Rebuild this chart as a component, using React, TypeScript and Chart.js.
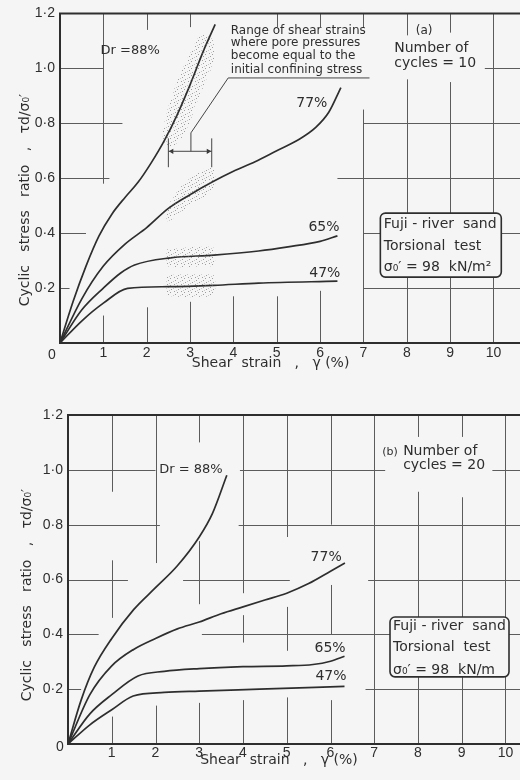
import React, { useEffect, useRef } from "react";
import { Chart, registerables } from "chart.js";

Chart.register(...registerables);

// ---------- data: panel (a), number of cycles = 10 ----------
const strainA88 = [0, 0.3, 0.6, 0.9, 1.2, 1.5, 1.8, 2.1, 2.4, 2.7, 3.0, 3.3, 3.58];
const ratioA88 = [0, 0.15, 0.28, 0.39, 0.47, 0.53, 0.585, 0.655, 0.735, 0.83, 0.94, 1.06, 1.16];
const strainA77 = [0, 0.5, 1.0, 1.5, 2.0, 2.5, 3.0, 3.5, 4.0, 4.5, 5.0, 5.5, 5.9, 6.2, 6.48];
const ratioA77 = [0, 0.16, 0.28, 0.36, 0.42, 0.49, 0.54, 0.585, 0.625, 0.66, 0.7, 0.74, 0.785, 0.84, 0.93];
const strainA65 = [0, 0.5, 1.0, 1.4, 1.72, 2.55, 3.55, 4.58, 5.26, 6.0, 6.4];
const ratioA65 = [0, 0.12, 0.2, 0.255, 0.284, 0.31, 0.32, 0.335, 0.35, 0.37, 0.39];
const strainA47 = [0, 0.5, 1.0, 1.56, 2.5, 3.55, 4.58, 6.4];
const ratioA47 = [0, 0.08, 0.145, 0.199, 0.205, 0.21, 0.218, 0.225];

// stippled ranges where pore pressure equals confining stress (panel a)
const stipple88X = [2.35, 2.5, 2.75, 3.05, 3.25, 3.5, 3.55, 3.35, 3.1, 2.9, 2.65, 2.45];
const stipple88Y = [0.76, 0.86, 0.97, 1.07, 1.12, 1.11, 1.03, 0.95, 0.85, 0.77, 0.72, 0.71];
const stipple77X = [2.42, 2.6, 3.0, 3.5, 3.57, 3.3, 2.9, 2.5];
const stipple77Y = [0.46, 0.53, 0.6, 0.64, 0.57, 0.53, 0.49, 0.44];
const stipple65X = [2.45, 2.7, 3.3, 3.55, 3.55, 3.3, 2.7, 2.45];
const stipple65Y = [0.34, 0.345, 0.35, 0.345, 0.285, 0.28, 0.275, 0.28];
const stipple47X = [2.45, 2.7, 3.3, 3.55, 3.55, 3.3, 2.7, 2.45];
const stipple47Y = [0.245, 0.25, 0.25, 0.245, 0.175, 0.168, 0.168, 0.175];

// range bar and leader (panel a)
const rangeBarX = [2.5, 3.5];
const rangeBarY = [0.698, 0.698];
const rangeEndX = [2.5, 3.5];
const rangeEndLow = 0.64;
const rangeEndHigh = 0.745;
const leaderX = [3.02, 3.02, 3.88, 7.14];
const leaderY = [0.698, 0.765, 0.965, 0.965];

// ---------- data: panel (b), number of cycles = 20 ----------
const strainB88 = [0, 0.3, 0.6, 1.0, 1.5, 2.0, 2.5, 3.0, 3.3, 3.63];
const ratioB88 = [0, 0.16, 0.28, 0.385, 0.49, 0.57, 0.65, 0.755, 0.84, 0.98];
const strainB77 = [0, 0.5, 1.0, 1.5, 2.0, 2.5, 3.0, 3.5, 4.0, 4.5, 5.0, 5.5, 6.0, 6.33];
const ratioB77 = [0, 0.18, 0.285, 0.345, 0.385, 0.42, 0.445, 0.475, 0.5, 0.525, 0.55, 0.585, 0.63, 0.66];
const strainB65 = [0, 0.5, 1.0, 1.6, 2.2, 3.0, 4.0, 5.0, 5.6, 6.0, 6.32];
const ratioB65 = [0, 0.11, 0.18, 0.248, 0.265, 0.275, 0.282, 0.285, 0.29, 0.302, 0.32];
const strainB47 = [0, 0.5, 1.0, 1.49, 2.2, 3.0, 4.38, 6.32];
const ratioB47 = [0, 0.07, 0.125, 0.175, 0.188, 0.193, 0.2, 0.21];

// ---------- tick labels ----------
const xTickLabels = ["", "1", "2", "3", "4", "5", "6", "7", "8", "9", "10"];
const yTickLabels = ["", "0·2", "0·4", "0·6", "0·8", "1·0", "1·2"];

// ---------- styling ----------
const FONT = '"DejaVu Sans", sans-serif';
const TICK_FONT = '"Liberation Sans", sans-serif';
const INK = "#2e2e2e";
const GRID = "#5c5c5c";
const PAPER = "#f5f5f5";

type Seg = [number, number, number];
type Label = { t: string; x: number; y: number; s: number; a?: CanvasTextAlign };

const gridVA: Seg[] = [
  [1, 0.58, 1.2], [1, 0, 0.1], [2, 1.14, 1.2], [2, 0, 0.13], [3, 1.15, 1.2], [3, 0, 0.15],
  [4, 0, 0.17], [5, 1.15, 1.2], [5, 0, 0.17], [6, 1.15, 1.2], [6, 0, 0.19],
  [7, 1.15, 1.2], [7, 0, 0.85], [8, 1.12, 1.2], [8, 0, 0.96], [9, 1.13, 1.2], [9, 0, 0.95],
  [10, 0, 1.2],
];
const gridHA: Seg[] = [
  [1.0, 0, 1.0], [1.0, 9.8, 11], [0.8, 0, 1.44], [0.8, 7.0, 11], [0.6, 0, 1.14], [0.6, 6.4, 11],
  [0.4, 0, 0.6], [0.4, 7.0, 11], [0.2, 0, 0.22], [0.2, 7.0, 11],
];
const gridVB: Seg[] = [
  [1, 0.92, 1.2], [1, 0.46, 0.67], [1, 0, 0.1], [2, 0.66, 1.2], [2, 0, 0.14],
  [3, 1.1, 1.2], [3, 0.51, 0.74], [3, 0, 0.15], [4, 0.55, 1.2], [4, 0.37, 0.47], [4, 0, 0.16],
  [5, 0.755, 1.2], [5, 0.34, 0.5], [5, 0, 0.17], [6, 0.8, 1.2], [6, 0.4, 0.58], [6, 0, 0.16],
  [7, 0, 1.2], [8, 1.12, 1.2], [8, 0, 0.92], [9, 1.12, 1.2], [9, 0, 0.9], [10, 0, 1.2],
];
const gridHB: Seg[] = [
  [1.0, 0, 2.0], [1.0, 3.93, 7.25], [1.0, 9.7, 11], [0.8, 0, 2.1], [0.8, 3.9, 11],
  [0.6, 0, 1.37], [0.6, 2.63, 5.07], [0.6, 6.86, 11], [0.4, 0, 0.7], [0.4, 3.06, 11],
  [0.2, 0, 0.3], [0.2, 6.8, 11],
];

const labelsA: Label[] = [
  { t: "Dr =88%", x: 1.62, y: 1.065, s: 13 },
  { t: "Range of shear strains", x: 3.94, y: 1.138, s: 12, a: "left" },
  { t: "where pore pressures", x: 3.94, y: 1.094, s: 12, a: "left" },
  { t: "become equal to the", x: 3.94, y: 1.044, s: 12, a: "left" },
  { t: "initial confining stress", x: 3.94, y: 0.995, s: 12, a: "left" },
  { t: "(a)", x: 8.4, y: 1.138, s: 12 },
  { t: "Number of", x: 7.71, y: 1.073, s: 14, a: "left" },
  { t: "cycles = 10", x: 7.71, y: 1.018, s: 14, a: "left" },
  { t: "77%", x: 5.81, y: 0.873, s: 14 },
  { t: "65%", x: 6.09, y: 0.422, s: 14 },
  { t: "47%", x: 6.11, y: 0.255, s: 14 },
];
const labelsB: Label[] = [
  { t: "Dr = 88%", x: 2.81, y: 1.0, s: 13 },
  { t: "(b)", x: 7.36, y: 1.066, s: 11 },
  { t: "Number of", x: 7.66, y: 1.066, s: 14, a: "left" },
  { t: "cycles = 20", x: 7.66, y: 1.015, s: 14, a: "left" },
  { t: "77%", x: 5.9, y: 0.68, s: 14 },
  { t: "65%", x: 5.99, y: 0.35, s: 14 },
  { t: "47%", x: 6.01, y: 0.245, s: 14 },
];
const boxLinesA = ["Fuji - river  sand", "Torsional  test", "σ₀′ = 98  kN/m²"];
const boxLinesB = ["Fuji - river  sand", "Torsional  test", "σ₀′ = 98  kN/m"];

type Panel = {
  width: number;
  height: number;
  left: number;
  top: number;
  bottom: number;
  xMax: number;
  tickPad: number;
  gridV: Seg[];
  gridH: Seg[];
  labels: Label[];
  box: { x0: number; x1: number; y0: number; y1: number; lx: number; ly: number[]; lines: string[] };
  yTitleX: number;
  yTitleY: number;
  xTitleX: number;
  xTitleDy: number;
  zeroDx: number;
  zeroDy: number;
};

const pts = (xs: number[], ys: number[]) => xs.map((x, i) => ({ x, y: ys[i] }));

function makeStipple(): CanvasPattern | string {
  const c = document.createElement("canvas");
  c.width = 7;
  c.height = 7;
  const g = c.getContext("2d");
  if (!g) return "rgba(120,120,120,0.2)";
  g.fillStyle = "rgba(100,100,100,0.6)";
  g.fillRect(0, 0, 1, 1);
  g.fillRect(3, 2, 1, 1);
  g.fillRect(6, 4, 1, 1);
  g.fillRect(2, 5, 1, 1);
  g.fillStyle = "rgba(100,100,100,0.3)";
  g.fillRect(5, 1, 1, 1);
  g.fillRect(1, 3, 1, 1);
  return g.createPattern(c, "repeat") || "rgba(120,120,120,0.2)";
}

function makeDecor(p: Panel) {
  return {
    id: "decor",
    beforeDatasetsDraw(chart: any) {
      const { ctx, chartArea: a } = chart;
      const xs = chart.scales.x;
      const ys = chart.scales.y;
      ctx.save();
      ctx.beginPath();
      ctx.rect(a.left, a.top, a.right - a.left, a.bottom - a.top);
      ctx.clip();
      ctx.strokeStyle = GRID;
      ctx.lineWidth = 1;
      ctx.beginPath();
      for (const [v, f, t] of p.gridV) {
        const px = Math.round(xs.getPixelForValue(v)) + 0.5;
        ctx.moveTo(px, ys.getPixelForValue(f));
        ctx.lineTo(px, ys.getPixelForValue(t));
      }
      for (const [v, f, t] of p.gridH) {
        const py = Math.round(ys.getPixelForValue(v)) + 0.5;
        ctx.moveTo(xs.getPixelForValue(f), py);
        ctx.lineTo(xs.getPixelForValue(t), py);
      }
      ctx.stroke();
      ctx.restore();
    },
    afterDatasetsDraw(chart: any) {
      const { ctx, chartArea: a } = chart;
      const xs = chart.scales.x;
      const ys = chart.scales.y;
      ctx.save();
      // frame
      ctx.strokeStyle = INK;
      ctx.lineWidth = 2;
      ctx.beginPath();
      ctx.moveTo(a.right + 10, a.top);
      ctx.lineTo(a.left, a.top);
      ctx.lineTo(a.left, a.bottom);
      ctx.lineTo(a.right + 10, a.bottom);
      ctx.stroke();
      // text labels
      ctx.fillStyle = INK;
      ctx.textBaseline = "middle";
      for (const l of p.labels) {
        ctx.font = `${l.s}px ${FONT}`;
        ctx.textAlign = l.a || "center";
        ctx.fillText(l.t, xs.getPixelForValue(l.x), ys.getPixelForValue(l.y));
      }
      // info box
      const b = p.box;
      const bx0 = xs.getPixelForValue(b.x0);
      const bx1 = xs.getPixelForValue(b.x1);
      const by0 = ys.getPixelForValue(b.y0);
      const by1 = ys.getPixelForValue(b.y1);
      ctx.beginPath();
      ctx.roundRect(bx0, by0, bx1 - bx0, by1 - by0, 5);
      ctx.fillStyle = PAPER;
      ctx.fill();
      ctx.lineWidth = 1.6;
      ctx.strokeStyle = INK;
      ctx.stroke();
      ctx.fillStyle = INK;
      ctx.font = `14px ${FONT}`;
      ctx.textAlign = "left";
      b.lines.forEach((t, i) => ctx.fillText(t, xs.getPixelForValue(b.lx), ys.getPixelForValue(b.ly[i])));
      // axis titles
      ctx.font = `14px ${FONT}`;
      ctx.textAlign = "left";
      ctx.fillText("Shear  strain   ,   γ (%)", xs.getPixelForValue(p.xTitleX), a.bottom + p.xTitleDy);
      ctx.save();
      ctx.translate(p.yTitleX, p.yTitleY);
      ctx.rotate(-Math.PI / 2);
      ctx.textAlign = "center";
      ctx.fillText("Cyclic   stress   ratio   ,   τd/σ₀′", 0, 0);
      ctx.restore();
      ctx.font = `14px ${TICK_FONT}`;
      ctx.textAlign = "center";
      ctx.fillText("0", a.left + p.zeroDx, a.bottom + p.zeroDy);
      ctx.restore();
    },
  };
}

function buildConfig(p: Panel, datasets: any[]): any {
  return {
    type: "line",
    data: { datasets },
    options: {
      animation: false,
      responsive: false,
      maintainAspectRatio: false,
      layout: { padding: { top: p.top, left: 0, right: 0, bottom: 0 } },
      plugins: { legend: { display: false }, tooltip: { enabled: false } },
      elements: { point: { radius: 0 } },
      scales: {
        x: {
          type: "linear",
          min: 0,
          max: p.xMax,
          grid: { display: false, drawTicks: false },
          border: { display: false },
          afterFit: (s: any) => {
            s.height = p.height - p.bottom;
          },
          ticks: {
            stepSize: 1,
            includeBounds: false,
            autoSkip: false,
            maxRotation: 0,
            padding: p.tickPad,
            color: INK,
            font: { family: TICK_FONT, size: 14 },
            callback: (v: number) => xTickLabels[Math.round(v)] ?? "",
          },
        },
        y: {
          type: "linear",
          min: 0,
          max: 1.2,
          grid: { display: false, drawTicks: false },
          border: { display: false },
          afterFit: (s: any) => {
            s.width = p.left;
          },
          ticks: {
            stepSize: 0.2,
            autoSkip: false,
            padding: 5,
            color: INK,
            font: { family: TICK_FONT, size: 14 },
            callback: (v: number) => yTickLabels[Math.round(v / 0.2)] ?? "",
          },
        },
      },
    },
  };
}

const curve = (xs: number[], ys: number[]) => ({
  data: pts(xs, ys),
  borderColor: INK,
  borderWidth: 1.7,
  pointRadius: 0,
  cubicInterpolationMode: "monotone",
  fill: false,
});
const guide = (xs: number[], ys: number[]) => ({
  data: pts(xs, ys),
  borderColor: "#444",
  borderWidth: 1,
  pointRadius: 0,
  tension: 0,
  fill: false,
});

const panelA: Panel = {
  width: 530,
  height: 390,
  left: 60,
  top: 13,
  bottom: 343,
  xMax: 10.75,
  tickPad: 2,
  gridV: gridVA,
  gridH: gridHA,
  labels: labelsA,
  box: { x0: 7.39, x1: 10.18, y0: 0.473, y1: 0.24, lx: 7.47, ly: [0.433, 0.353, 0.276], lines: boxLinesA },
  yTitleX: 25,
  yTitleY: 200,
  xTitleX: 3.04,
  xTitleDy: 20,
  zeroDx: -8,
  zeroDy: 12,
};
const panelB: Panel = {
  width: 530,
  height: 390,
  left: 68,
  top: 25,
  bottom: 354,
  xMax: 10.56,
  tickPad: 1,
  gridV: gridVB,
  gridH: gridHB,
  labels: labelsB,
  box: { x0: 7.36, x1: 10.08, y0: 0.463, y1: 0.245, lx: 7.43, ly: [0.43, 0.354, 0.27], lines: boxLinesB },
  yTitleX: 27,
  yTitleY: 205,
  xTitleX: 3.02,
  xTitleDy: 16,
  zeroDx: -8,
  zeroDy: 3,
};

export default function App() {
  const refA = useRef<HTMLCanvasElement | null>(null);
  const refB = useRef<HTMLCanvasElement | null>(null);

  useEffect(() => {
    const stipple = makeStipple();
    const shade = (xs: number[], ys: number[]) => ({
      data: pts(xs, ys),
      borderWidth: 0,
      borderColor: "rgba(0,0,0,0)",
      backgroundColor: stipple,
      pointRadius: 0,
      tension: 0.35,
      fill: "shape",
    });
    const dsA = [
      shade(stipple88X, stipple88Y),
      shade(stipple77X, stipple77Y),
      shade(stipple65X, stipple65Y),
      shade(stipple47X, stipple47Y),
      curve(strainA88, ratioA88),
      curve(strainA77, ratioA77),
      curve(strainA65, ratioA65),
      curve(strainA47, ratioA47),
      guide(rangeBarX, rangeBarY),
      guide([rangeEndX[0], rangeEndX[0]], [rangeEndLow, rangeEndHigh]),
      guide([rangeEndX[1], rangeEndX[1]], [rangeEndLow, rangeEndHigh]),
      guide(leaderX, leaderY),
      {
        data: pts([rangeBarX[0] + 0.08, rangeBarX[1] - 0.08], rangeBarY),
        showLine: false,
        pointStyle: "triangle",
        pointRadius: 3,
        pointRotation: [270, 90],
        pointBackgroundColor: "#333",
        pointBorderColor: "#333",
        pointBorderWidth: 0,
      },
    ];
    const dsB = [
      curve(strainB88, ratioB88),
      curve(strainB77, ratioB77),
      curve(strainB65, ratioB65),
      curve(strainB47, ratioB47),
    ];
    const cA = new Chart(refA.current as HTMLCanvasElement, { ...buildConfig(panelA, dsA), plugins: [makeDecor(panelA)] });
    const cB = new Chart(refB.current as HTMLCanvasElement, { ...buildConfig(panelB, dsB), plugins: [makeDecor(panelB)] });
    return () => {
      cA.destroy();
      cB.destroy();
    };
  }, []);

  return (
    <div
      style={{
        position: "absolute",
        left: 0,
        top: 0,
        width: 520,
        height: 780,
        overflow: "hidden",
        background: PAPER,
      }}
    >
      <canvas ref={refA} width={panelA.width} height={panelA.height} style={{ position: "absolute", left: 0, top: 0 }} />
      <canvas ref={refB} width={panelB.width} height={panelB.height} style={{ position: "absolute", left: 0, top: 390 }} />
    </div>
  );
}
